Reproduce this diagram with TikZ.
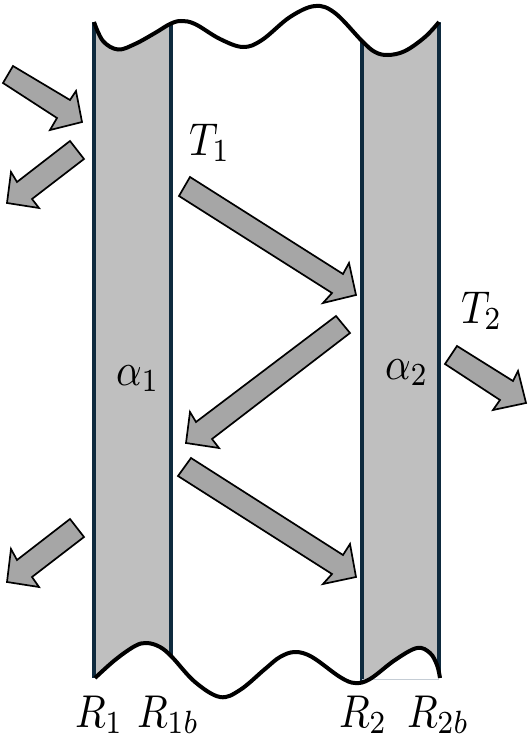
\documentclass[tikz,border=0pt]{standalone}
\usepackage{graphicx}
\definecolor{wallfill}{HTML}{BFBFBF}
\definecolor{arrowfill}{HTML}{A6A6A6}
\definecolor{wallline}{HTML}{0E2A3E}
\definecolor{thinline}{HTML}{C5CDD5}
\newcommand{\lab}[1]{\scalebox{4.0}[4.6]{$#1$}}
\newcommand{\topwavepts}{(94,22) (103,41) (118,49.5) (135,44) (155,33) (170,24) (181,21) (195,24) (220,39) (243,47) (262,40) (290,17) (315,6) (335,13) (362,41) (375,52) (388,55) (405,51) (425,37) (439,22)}
\newcommand{\botwavepts}{(95,678) (115,660) (135,646) (147,643) (160,647) (172,657) (195,682) (220,697) (240,690) (265,669) (280,657) (295,652) (312,657) (340,677) (355,683) (370,679) (395,660) (417,648) (430,653) (437,665) (440,678)}
\tikzset{
  wall/.style={fill=wallfill,draw=none},
  wallside/.style={draw=wallline,line width=3.4pt},
  wave/.style={draw=black,line width=4pt,line cap=butt},
  blockarrow/.style={fill=arrowfill,draw=black,line width=1.7pt,line join=miter},
  lbl/.style={inner sep=0pt,outer sep=0pt,anchor=base west,text=black}
}
\begin{document}
\begin{tikzpicture}[x=1pt,y=-1pt]
\useasboundingbox (0,0) rectangle (530,739);
\fill[white] (0,0) rectangle (530,739);
% walls
\path[wall] (94,15) rectangle (171,690);
\path[wall] (362,15) rectangle (439,690);
\draw[wallside] (94,15) -- (94,690);
\draw[wallside] (171,15) -- (171,690);
\draw[wallside] (362,15) -- (362,690);
\draw[wallside] (439,15) -- (439,690);
% mask beyond the waves
\fill[white] plot[smooth,tension=.6] coordinates {\topwavepts} -- (442,22) -- (442,0) -- (90,0) -- (90,22) -- cycle;
\fill[white] plot[smooth,tension=.6] coordinates {\botwavepts} -- (443,678) -- (443,705) -- (90,705) -- (90,678) -- cycle;
\draw[thinline,line width=1pt] (362,679) -- (439,679);
\draw[wave] plot[smooth,tension=.6] coordinates {\topwavepts};
\draw[wave] plot[smooth,tension=.6] coordinates {\botwavepts};
% block arrows
\draw[blockarrow] (13,66) -- (3,83) -- (57,118) -- (50,130) -- (82,122) -- (76,91) -- (70,100) -- cycle;
\draw[blockarrow] (70,141) -- (84,159) -- (32,199) -- (39,208) -- (7,203) -- (11,172) -- (17,182) -- cycle;
\draw[blockarrow] (70,519) -- (84,537) -- (32,577) -- (39,587) -- (7,582) -- (11,549) -- (17,560) -- cycle;
\draw[blockarrow] (190,177) -- (179,196) -- (332,293) -- (323,303) -- (356,295) -- (349,263) -- (343,274) -- cycle;
\draw[blockarrow] (336,316) -- (350,333) -- (212,439) -- (219,448) -- (186,443) -- (190,412) -- (196,422) -- cycle;
\draw[blockarrow] (191,458) -- (178,476) -- (332,574) -- (323,584) -- (356,577) -- (350,544) -- (343,555) -- cycle;
\draw[blockarrow] (457,346) -- (445,364) -- (500,400) -- (493,410) -- (526,403) -- (518,371) -- (513,381) -- cycle;
% labels
\node[lbl] (t1) at (189,155) {\lab{T_1}};
\node[lbl] (t2) at (461,323) {\lab{T_2}};
\node[lbl] (a1) at (116,385) {\lab{\alpha_1}};
\node[lbl] (a2) at (385,379) {\lab{\alpha_2}};
\node[lbl] (r1) at (75,727) {\lab{R_1}};
\node[lbl] (r1b) at (137,727) {\lab{R_{1b}}};
\node[lbl] (r2) at (339,727) {\lab{R_2}};
\node[lbl] (r2b) at (407,727) {\lab{R_{2b}}};
\end{tikzpicture}
\end{document}
